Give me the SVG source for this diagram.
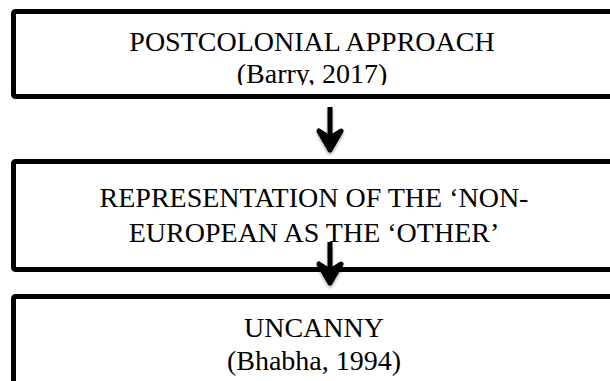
<svg xmlns="http://www.w3.org/2000/svg" width="610" height="381" viewBox="0 0 610 381">
<style>
.box{fill:#fff;stroke:#000;stroke-width:5}
.t{font-family:"Liberation Serif","Times New Roman",serif;font-size:28px;fill:#000;text-anchor:middle}
.shaft{stroke:#000;stroke-width:5;fill:none}
.head{stroke:#000;stroke-width:5;fill:#000;stroke-linejoin:round;stroke-linecap:round}
</style>
<defs>
<clipPath id="c1"><rect x="16" y="14" width="600" height="71"/></clipPath>
<filter id="sh" x="-50%" y="-50%" width="200%" height="200%">
<feDropShadow dx="0" dy="2" stdDeviation="1.5" flood-color="#000" flood-opacity="0.35"/>
</filter>
</defs>
<g id="node1">
<rect class="box" x="13.5" y="11.5" width="610" height="85" rx="2"/>
<g clip-path="url(#c1)">
<text class="t" x="312" y="51">POSTCOLONIAL APPROACH</text>
<text class="t" x="312" y="83">(Barry, 2017)</text>
</g>
</g>
<g id="node2">
<rect class="box" x="13.5" y="161.5" width="610" height="108" rx="2"/>
<text class="t" x="314" y="207">REPRESENTATION OF THE ‘NON-</text>
<text class="t" x="314" y="242">EUROPEAN AS THE ‘OTHER’</text>
</g>
<g id="node3">
<rect class="box" x="13.5" y="296.5" width="610" height="100" rx="2"/>
<text class="t" x="314" y="337">UNCANNY</text>
<text class="t" x="314" y="370">(Bhabha, 1994)</text>
</g>
<g id="connectors">
<g filter="url(#sh)">
<line class="shaft" x1="330" y1="107" x2="330" y2="145"/>
<polygon class="head" points="319,131 330,150 341,131 330,138"/>
</g>
<g filter="url(#sh)">
<line class="shaft" x1="330" y1="242" x2="330" y2="278"/>
<polygon class="head" points="319,264 330,283 341,264 330,271"/>
</g>
</g>
</svg>
